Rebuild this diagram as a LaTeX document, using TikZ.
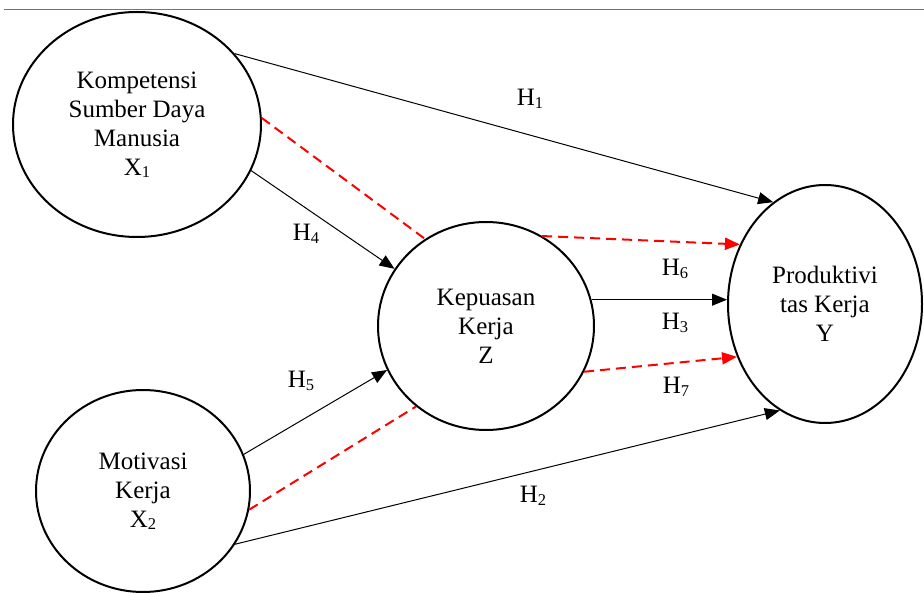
\documentclass[tikz,border=0pt]{standalone}
\usepackage{fontspec}
\setmainfont{Liberation Serif}
\usetikzlibrary{shapes.geometric,arrows.meta}
\newcommand\lsub[1]{\raisebox{-2.5pt}{\fontsize{16.5}{16.5}\selectfont #1}}
\begin{document}
\begin{tikzpicture}[x=1pt,y=1pt,
  latent/.style={ellipse,draw,line width=2pt,inner sep=0pt,align=center,font=\fontsize{25}{29}\selectfont},
  tip/.style={-{Triangle[length=15pt,width=12pt]}},
  pathline/.style={line width=1pt,tip},
  link/.style={red,line width=2pt,dash pattern=on 10pt off 6pt},
  hyp/.style={font=\fontsize{25}{29}\selectfont,inner sep=0pt}]
\useasboundingbox (0,0) rectangle (924,592);
\draw[line width=1.5pt,black!55] (4,582.5) -- (924,582.5);
% constructs
\node[latent,minimum width=248pt,minimum height=225pt] (x1) at (137,467.5) {Kompetensi\\Sumber Daya\\Manusia\\X\lsub{1}};
\node[latent,minimum width=216pt,minimum height=208pt] (z) at (486,266) {Kepuasan\\Kerja\\Z};
\node[latent,minimum width=194pt,minimum height=238pt] (y) at (825,288) {Produktivi\\tas Kerja\\Y};
\node[latent,minimum width=214pt,minimum height=202pt] (x2) at (143,101) {Motivasi\\Kerja\\X\lsub{2}};
% connectors
\draw[pathline] (x1.36) -- (y.117);
\draw[pathline] (x1.-22) -- (z.148);
\draw[link] (x1.3) -- (z.125);
\draw[link,tip] (z.58) -- (y.145);
\draw[pathline] (z.14) -- (z.14 -| y.west);
\draw[link,tip] (z.-25) -- (y.211);
\draw[pathline] (x2.20) -- (z.204);
\draw[link] (x2.-10) -- (z.229);
\draw[pathline] (x2.-30) -- (y.247);
% labels
\node[hyp] (h1) at (530,493) {H\lsub{1}};
\node[hyp] (h4) at (306,358) {H\lsub{4}};
\node[hyp] (h6) at (675,323) {H\lsub{6}};
\node[hyp] (h3) at (675,269) {H\lsub{3}};
\node[hyp] (h7) at (676,205) {H\lsub{7}};
\node[hyp] (h5) at (301,211) {H\lsub{5}};
\node[hyp] (h2) at (533,96) {H\lsub{2}};
\end{tikzpicture}
\end{document}
